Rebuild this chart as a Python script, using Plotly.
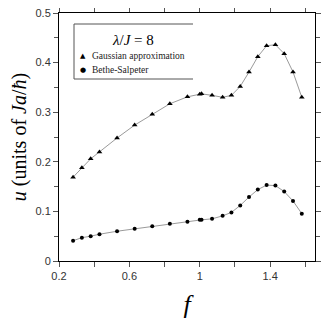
import plotly.graph_objects as go

f_vals = [0.28, 0.33, 0.38, 0.43, 0.53, 0.63, 0.73, 0.83, 0.93, 1.0, 1.01,
          1.07, 1.13, 1.18, 1.23, 1.28, 1.33, 1.38, 1.43, 1.48, 1.53, 1.58]
gaussian = [0.169, 0.188, 0.206, 0.220, 0.248, 0.274, 0.296, 0.317, 0.331, 0.336, 0.337,
            0.334, 0.330, 0.334, 0.352, 0.381, 0.412, 0.434, 0.436, 0.418, 0.381, 0.330]
bethe = [0.041, 0.047, 0.050, 0.054, 0.060, 0.065, 0.070, 0.075, 0.079, 0.083, 0.083,
         0.085, 0.091, 0.098, 0.112, 0.129, 0.144, 0.153, 0.152, 0.140, 0.121, 0.0955]

x_ticks = [0.2, 0.4, 0.6, 0.8, 1.0, 1.2, 1.4, 1.6]
x_tick_labels = ["0.2", "", "0.6", "", "1", "", "1.4", ""]
y_ticks = [0, 0.1, 0.2, 0.3, 0.4, 0.5]
y_tick_labels = ["0", "0.1", "0.2", "0.3", "0.4", "0.5"]
legend_title = "<i>λ</i>/<i>J</i> = 8"
series_names = ["Gaussian approximation", "Bethe-Salpeter"]

serif = "Liberation Serif, Times New Roman, serif"
sans = "Liberation Sans, Arial, sans-serif"

fig = go.Figure()
fig.add_trace(go.Scatter(x=f_vals, y=gaussian, mode="lines+markers", name=series_names[0],
                         line=dict(color="#808080", width=0.8),
                         marker=dict(symbol="triangle-up", size=5, color="black"), showlegend=False))
fig.add_trace(go.Scatter(x=f_vals, y=bethe, mode="lines+markers", name=series_names[1],
                         line=dict(color="#808080", width=0.8),
                         marker=dict(symbol="circle", size=4, color="black"), showlegend=False))

# Page offset of the figure div (browser body margin)
OFF = 8
W, H = 332 - OFF, 319 - OFF
L, T = 59 - OFF, 13 - OFF          # plot area left/top in figure px
pw, ph = 256, 248                  # plot area size

def px(xp):  # page x -> paper x
    return (xp - OFF - L) / pw
def py(yp):  # page y -> paper y
    return 1 - (yp - OFF - T) / ph

box_l, box_r, box_t, box_b = px(74), px(193), py(24), py(79)
line_style = dict(color="#555555", width=1)
fig.add_shape(type="line", xref="paper", yref="paper", x0=box_l, x1=box_r, y0=box_t, y1=box_t, line=line_style)
fig.add_shape(type="line", xref="paper", yref="paper", x0=box_l, x1=box_r, y0=box_b, y1=box_b, line=line_style)
fig.add_shape(type="line", xref="paper", yref="paper", x0=box_l, x1=box_l, y0=box_b, y1=box_t, line=line_style)

fig.add_annotation(xref="paper", yref="paper", x=px(133), y=py(40), text=legend_title, showarrow=False,
                   xanchor="center", yanchor="middle", font=dict(family=serif, size=15, color="black"))
fig.add_annotation(xref="paper", yref="paper", x=px(78), y=py(56), text="▲", showarrow=False,
                   xanchor="left", yanchor="middle", font=dict(family="DejaVu Sans", size=7, color="black"))
fig.add_annotation(xref="paper", yref="paper", x=px(90), y=py(56), text=series_names[0], showarrow=False,
                   xanchor="left", yanchor="middle", font=dict(family=serif, size=9.5, color="#222222"))
fig.add_annotation(xref="paper", yref="paper", x=px(78), y=py(70), text="●", showarrow=False,
                   xanchor="left", yanchor="middle", font=dict(family="DejaVu Sans", size=7, color="black"))
fig.add_annotation(xref="paper", yref="paper", x=px(90), y=py(70), text=series_names[1], showarrow=False,
                   xanchor="left", yanchor="middle", font=dict(family=serif, size=9.5, color="#222222"))

fig.update_layout(
    width=W, height=H,
    margin=dict(l=L, r=W - L - pw, t=T, b=H - T - ph, pad=0),
    plot_bgcolor="white", paper_bgcolor="white",
    showlegend=False,
    xaxis=dict(
        range=[0.2, 1.655], tickvals=x_ticks, ticktext=x_tick_labels,
        ticks="outside", ticklen=5, tickcolor="#555555", tickwidth=1,
        showline=True, linecolor="black", linewidth=1, mirror="ticks",
        showgrid=False, zeroline=False, automargin=False,
        tickfont=dict(family=sans, size=11, color="#333333"),
        title=dict(text="<i>f</i>", font=dict(family=serif, size=26, color="black"), standoff=21),
    ),
    yaxis=dict(
        range=[0, 0.5], tickvals=y_ticks, ticktext=y_tick_labels,
        ticks="outside", ticklen=5, tickcolor="#555555", tickwidth=1,
        minor=dict(dtick=0.05, ticks="outside", ticklen=4, tickcolor="#555555"),
        showline=True, linecolor="black", linewidth=1, mirror="ticks",
        showgrid=False, zeroline=False, automargin=False,
        ticklabeloverflow="allow",
        tickfont=dict(family=sans, size=11, color="#333333"),
        title=dict(text="<i>u</i> (units of <i>Ja</i>/<i>ħ</i>)",
                   font=dict(family=serif, size=20, color="black"), standoff=6),
    ),
)

fig.write_html("out.html")
